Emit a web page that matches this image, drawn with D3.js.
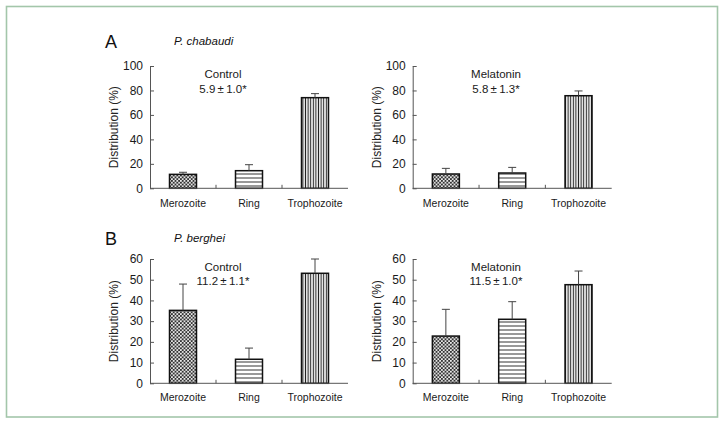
<!DOCTYPE html>
<html><head><meta charset="utf-8">
<script src="https://cdn.jsdelivr.net/npm/d3@7"></script>
<style>
html,body{margin:0;padding:0;background:#fff;}
svg{display:block;font-family:"Liberation Sans",Arial,Helvetica,sans-serif;}
</style></head>
<body>
<svg id="chart" width="726" height="425"></svg>
<script>
const categories = ["Merozoite", "Ring", "Trophozoite"];
const chabaudiControl = [11.4, 14.4, 74.1];
const chabaudiControlErr = [1.7, 4.9, 3.3];
const chabaudiMelatonin = [11.7, 12.5, 75.7];
const chabaudiMelatoninErr = [4.6, 4.6, 3.9];
const bergheiControl = [35.2, 11.6, 53.1];
const bergheiControlErr = [12.7, 5.4, 6.9];
const bergheiMelatonin = [22.8, 30.9, 47.6];
const bergheiMelatoninErr = [12.9, 8.5, 6.6];
const yTicksA = [0, 20, 40, 60, 80, 100];
const yTicksB = [0, 10, 20, 30, 40, 50, 60];
const panelLetters = ["A", "B"];
const speciesNames = ["P. chabaudi", "P. berghei"];
const groupNames = ["Control", "Melatonin"];
const groupStats = [["5.9\u2009±\u20091.0*", "5.8\u2009±\u20091.3*"], ["11.2\u2009±\u20091.1*", "11.5\u2009±\u20091.0*"]];
const yTitle = "Distribution (%)";

const svg = d3.select("#chart");
const defs = svg.append("defs");

// patterns
const pDot = defs.append("pattern").attr("id", "pDot").attr("patternUnits", "userSpaceOnUse")
  .attr("width", 3.6).attr("height", 3.6);
pDot.append("rect").attr("width", 3.6).attr("height", 3.6).attr("fill", "#333");
pDot.append("circle").attr("cx", 0.9).attr("cy", 0.9).attr("r", 0.95).attr("fill", "#fff");
pDot.append("circle").attr("cx", 2.7).attr("cy", 2.7).attr("r", 0.95).attr("fill", "#fff");

const pH = defs.append("pattern").attr("id", "pH").attr("patternUnits", "userSpaceOnUse")
  .attr("width", 8).attr("height", 4);
pH.append("rect").attr("width", 8).attr("height", 4).attr("fill", "#fff");
pH.append("line").attr("x1", 0).attr("x2", 8).attr("y1", 2).attr("y2", 2).attr("stroke", "#333").attr("stroke-width", 1);

const pV = defs.append("pattern").attr("id", "pV").attr("patternUnits", "userSpaceOnUse")
  .attr("width", 2.6).attr("height", 8);
pV.append("rect").attr("width", 2.6).attr("height", 8).attr("fill", "#fff");
pV.append("line").attr("x1", 1.3).attr("x2", 1.3).attr("y1", 0).attr("y2", 8).attr("stroke", "#222").attr("stroke-width", 1.1);

const fills = ["url(#pDot)", "url(#pH)", "url(#pV)"];

// outer frame
svg.append("rect").attr("x", 6.5).attr("y", 6.5).attr("width", 711).attr("height", 410.5)
  .attr("fill", "#fff").attr("stroke", "#a3c6aa").attr("stroke-width", 1.6);

const rows = [
  {y0: 188.3, y1: 66, ticks: yTicksA, max: 100, letterY: 48.3, data: [[chabaudiControl, chabaudiControlErr], [chabaudiMelatonin, chabaudiMelatoninErr]], labelY: 206.5, annY: 78.3},
  {y0: 383.3, y1: 259, ticks: yTicksB, max: 60, letterY: 245, data: [[bergheiControl, bergheiControlErr], [bergheiMelatonin, bergheiMelatoninErr]], labelY: 400.5, annY: 270.7}
];
const cols = [
  {x0: 150, x1: 348, annX: 223},
  {x0: 412.7, x1: 611.7, annX: 496}
];

rows.forEach((row, ri) => {
  // panel letter + species
  svg.append("text").attr("x", 105).attr("y", row.letterY).attr("font-size", 18).attr("fill", "#111").text(panelLetters[ri]);
  svg.append("text").attr("x", 174).attr("y", row.letterY - 3).attr("font-size", 11.5).attr("font-style", "italic").attr("fill", "#111").text(speciesNames[ri]);

  cols.forEach((col, ci) => {
    const vals = row.data[ci][0], errs = row.data[ci][1];
    const x = d3.scaleBand().domain(categories).range([col.x0, col.x1]).padding(0);
    const y = d3.scaleLinear().domain([0, row.max]).range([row.y0, row.y1]);
    const g = svg.append("g");
    const bw = 27;

    // bars
    g.selectAll("rect.bar").data(categories).join("rect")
      .attr("x", d => x(d) + x.bandwidth() / 2 - bw / 2)
      .attr("y", (d, i) => y(vals[i]))
      .attr("width", bw)
      .attr("height", (d, i) => y(0) - y(vals[i]))
      .attr("fill", (d, i) => fills[i])
      .attr("stroke", "#111").attr("stroke-width", 1.5);

    // error bars
    const eg = g.selectAll("g.err").data(categories).join("g");
    eg.append("line")
      .attr("x1", d => x(d) + x.bandwidth() / 2).attr("x2", d => x(d) + x.bandwidth() / 2)
      .attr("y1", (d, i) => y(vals[i])).attr("y2", (d, i) => y(vals[i] + errs[i]))
      .attr("stroke", "#444").attr("stroke-width", 1);
    eg.append("line")
      .attr("x1", d => x(d) + x.bandwidth() / 2 - 4).attr("x2", d => x(d) + x.bandwidth() / 2 + 4)
      .attr("y1", (d, i) => y(vals[i] + errs[i])).attr("y2", (d, i) => y(vals[i] + errs[i]))
      .attr("stroke", "#444").attr("stroke-width", 1);

    // y axis
    const ya = g.append("g").attr("transform", `translate(${col.x0},0)`)
      .call(d3.axisLeft(y).tickValues(row.ticks).tickSize(-4).tickPadding(7).tickSizeOuter(0));
    ya.select(".domain").attr("stroke", "#555");
    ya.selectAll(".tick line").attr("stroke", "#555");
    ya.selectAll(".tick text").attr("font-size", 12).attr("fill", "#1a1a1a").attr("font-family", null);
    ya.attr("font-family", null);

    // x axis line + inward ticks at band boundaries
    g.append("line").attr("x1", col.x0).attr("x2", col.x1).attr("y1", row.y0).attr("y2", row.y0)
      .attr("stroke", "#555").attr("stroke-width", 1);
    g.selectAll("line.xt").data(categories.slice(1)).join("line")
      .attr("x1", d => x(d)).attr("x2", d => x(d)).attr("y1", row.y0).attr("y2", row.y0 - 3.5)
      .attr("stroke", "#555").attr("stroke-width", 1);

    // category labels
    g.selectAll("text.cat").data(categories).join("text")
      .attr("x", d => x(d) + x.bandwidth() / 2).attr("y", row.labelY)
      .attr("text-anchor", "middle").attr("font-size", 10.5).attr("fill", "#1a1a1a").text(d => d);

    // y title
    const cy = (row.y0 + row.y1) / 2;
    g.append("text").attr("transform", `translate(${col.x0 - 32},${cy}) rotate(-90)`)
      .attr("text-anchor", "middle").attr("font-size", 12).attr("fill", "#222").text(yTitle);

    // annotation
    g.append("text").attr("x", col.annX).attr("y", row.annY).attr("text-anchor", "middle")
      .attr("font-size", 11.5).attr("fill", "#1a1a1a").text(groupNames[ci]);
    g.append("text").attr("x", col.annX).attr("y", row.annY + 14.6).attr("text-anchor", "middle")
      .attr("font-size", 11.5).attr("fill", "#1a1a1a").text(groupStats[ri][ci]);
  });
});
</script>
</body></html>
